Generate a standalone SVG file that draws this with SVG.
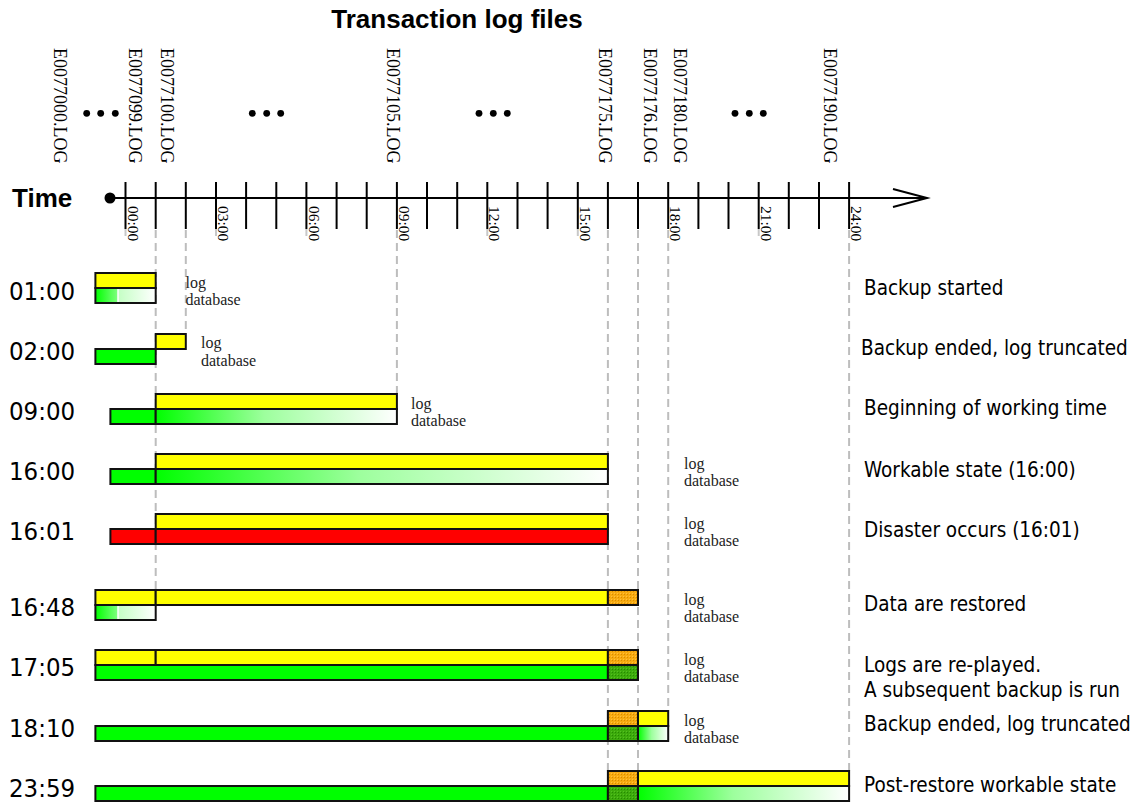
<svg xmlns="http://www.w3.org/2000/svg" width="1139" height="802" viewBox="0 0 1139 802">
  <defs>
    <style>
      .title { font-family: "Liberation Sans", Arial, sans-serif; font-weight: bold; font-size: 26px; fill: #000; }
      .file { font-family: "Liberation Serif", "Times New Roman", serif; font-size: 18px; fill: #000; }
      .hour { font-family: "Liberation Serif", "Times New Roman", serif; font-size: 15.5px; fill: #000; }
      .row { font-family: "DejaVu Sans Condensed", "DejaVu Sans", sans-serif; font-stretch: condensed; font-size: 25.5px; fill: #000; }
      .desc { font-family: "DejaVu Sans Condensed", "DejaVu Sans", sans-serif; font-stretch: condensed; font-size: 20.5px; fill: #000; }
      .tag { font-family: "Liberation Serif", "Times New Roman", serif; font-size: 16px; fill: #222; }
      .bar { stroke: #111; stroke-width: 2; }
      .log { fill: #ffff00; }
      .db { fill: #00ff00; }
      .bad { fill: #ff0000; }
      .fade { fill: url(#fade); }
      .fadeA { fill: url(#fadeA); }
      .fadeB { fill: url(#fadeB); }
      .replay { fill: url(#orangeHatch); }
      .applied { fill: url(#greenHatch); }
      .tick { stroke: #000; stroke-width: 2; }
      .stub { stroke: #c8c8c8; stroke-width: 2; }
      .guide { stroke: #bdbdbd; stroke-width: 2; stroke-dasharray: 8 5; fill: none; }
      .dot { fill: #000; }
    </style>
    <linearGradient id="fade" x1="0" y1="0" x2="1" y2="0">
      <stop offset="0" stop-color="#00ff00"/>
      <stop offset="0.45" stop-color="#9dff9d"/>
      <stop offset="1" stop-color="#ffffff"/>
    </linearGradient>
    <linearGradient id="fadeA" x1="0" y1="0" x2="1" y2="0">
      <stop offset="0" stop-color="#00ff00"/>
      <stop offset="1" stop-color="#80ff80"/>
    </linearGradient>
    <linearGradient id="fadeB" x1="0" y1="0" x2="1" y2="0">
      <stop offset="0" stop-color="#c4ffc4"/>
      <stop offset="1" stop-color="#ffffff"/>
    </linearGradient>
    <pattern id="orangeHatch" width="3" height="3" patternUnits="userSpaceOnUse">
      <rect width="3" height="3" fill="#f7ab10"/>
      <rect width="1" height="1" fill="#d98a00"/>
      <rect x="2" y="2" width="1" height="1" fill="#ffc040"/>
    </pattern>
    <pattern id="greenHatch" width="3" height="3" patternUnits="userSpaceOnUse">
      <rect width="3" height="3" fill="#3cab0c"/>
      <rect width="1" height="1" fill="#268a00"/>
      <rect x="2" y="2" width="1" height="1" fill="#55c020"/>
    </pattern>
  </defs>

  <rect width="1139" height="802" fill="#ffffff"/>

  <!-- heading -->
  <text class="title" x="457" y="28" text-anchor="middle">Transaction log files</text>

  <!-- log file names along the time line -->
  <g id="files">
    <text class="file" transform="translate(54,48) rotate(90)">E0077000.LOG</text>
    <text class="file" transform="translate(129,48) rotate(90)">E0077099.LOG</text>
    <text class="file" transform="translate(160.5,48) rotate(90)">E0077100.LOG</text>
    <text class="file" transform="translate(387,48) rotate(90)">E0077105.LOG</text>
    <text class="file" transform="translate(599,48) rotate(90)">E0077175.LOG</text>
    <text class="file" transform="translate(644,48) rotate(90)">E0077176.LOG</text>
    <text class="file" transform="translate(674,48) rotate(90)">E0077180.LOG</text>
    <text class="file" transform="translate(824,48) rotate(90)">E0077190.LOG</text>
    <circle class="dot" cx="86.7" cy="113.3" r="3.4"/>
    <circle class="dot" cx="100.7" cy="113.3" r="3.4"/>
    <circle class="dot" cx="115.3" cy="113.3" r="3.4"/>
    <circle class="dot" cx="252.3" cy="113.3" r="3.4"/>
    <circle class="dot" cx="266.7" cy="113.3" r="3.4"/>
    <circle class="dot" cx="280.7" cy="113.3" r="3.4"/>
    <circle class="dot" cx="479" cy="113.3" r="3.4"/>
    <circle class="dot" cx="493.3" cy="113.3" r="3.4"/>
    <circle class="dot" cx="507.3" cy="113.3" r="3.4"/>
    <circle class="dot" cx="735" cy="113.3" r="3.4"/>
    <circle class="dot" cx="749.3" cy="113.3" r="3.4"/>
    <circle class="dot" cx="763.3" cy="113.3" r="3.4"/>
  </g>

  <!-- dashed guides from the time line down to the bars -->
  <g id="connectors">
    <line class="guide" x1="155.7" y1="230" x2="155.7" y2="590"/>
    <line class="guide" x1="185.8" y1="230" x2="185.8" y2="334"/>
    <line class="guide" x1="396.9" y1="230" x2="396.9" y2="394"/>
    <line class="guide" x1="607.9" y1="230" x2="607.9" y2="771"/>
    <line class="guide" x1="638" y1="230" x2="638" y2="771"/>
    <line class="guide" x1="668.2" y1="230" x2="668.2" y2="711"/>
    <line class="guide" x1="849.1" y1="230" x2="849.1" y2="771"/>
  </g>

  <!-- time axis -->
  <g id="axis">
    <text class="title" x="12" y="207" font-size="25">Time</text>
    <g class="stub">
      <line x1="125.5" y1="229" x2="125.5" y2="236"/>
      <line x1="216" y1="229" x2="216" y2="236"/>
      <line x1="306.4" y1="229" x2="306.4" y2="236"/>
      <line x1="487.3" y1="229" x2="487.3" y2="236"/>
      <line x1="577.8" y1="229" x2="577.8" y2="236"/>
      <line x1="758.7" y1="229" x2="758.7" y2="236"/>
    </g>
    <line x1="110" y1="198" x2="926" y2="198" stroke="#000" stroke-width="2"/>
    <circle cx="110" cy="198" r="5.5" fill="#000"/>
    <polyline points="893,189 927,198 893,207" fill="none" stroke="#000" stroke-width="2"/>
    <g class="tick">
      <line x1="125.5" y1="182" x2="125.5" y2="229"/>
      <line x1="155.7" y1="182" x2="155.7" y2="229"/>
      <line x1="185.8" y1="182" x2="185.8" y2="229"/>
      <line x1="216" y1="182" x2="216" y2="229"/>
      <line x1="246.1" y1="182" x2="246.1" y2="229"/>
      <line x1="276.3" y1="182" x2="276.3" y2="229"/>
      <line x1="306.4" y1="182" x2="306.4" y2="229"/>
      <line x1="336.6" y1="182" x2="336.6" y2="229"/>
      <line x1="366.7" y1="182" x2="366.7" y2="229"/>
      <line x1="396.9" y1="182" x2="396.9" y2="229"/>
      <line x1="427" y1="182" x2="427" y2="229"/>
      <line x1="457.2" y1="182" x2="457.2" y2="229"/>
      <line x1="487.3" y1="182" x2="487.3" y2="229"/>
      <line x1="517.5" y1="182" x2="517.5" y2="229"/>
      <line x1="547.6" y1="182" x2="547.6" y2="229"/>
      <line x1="577.8" y1="182" x2="577.8" y2="229"/>
      <line x1="607.9" y1="182" x2="607.9" y2="229"/>
      <line x1="638" y1="182" x2="638" y2="229"/>
      <line x1="668.2" y1="182" x2="668.2" y2="229"/>
      <line x1="698.4" y1="182" x2="698.4" y2="229"/>
      <line x1="728.5" y1="182" x2="728.5" y2="229"/>
      <line x1="758.7" y1="182" x2="758.7" y2="229"/>
      <line x1="788.8" y1="182" x2="788.8" y2="229"/>
      <line x1="819" y1="182" x2="819" y2="229"/>
      <line x1="849.1" y1="182" x2="849.1" y2="229"/>
    </g>
    <text class="hour" transform="translate(127.5,206) rotate(90)">00:00</text>
    <text class="hour" transform="translate(218,206) rotate(90)">03:00</text>
    <text class="hour" transform="translate(308.5,206) rotate(90)">06:00</text>
    <text class="hour" transform="translate(399,206) rotate(90)">09:00</text>
    <text class="hour" transform="translate(489.3,206) rotate(90)">12:00</text>
    <text class="hour" transform="translate(579.8,206) rotate(90)">15:00</text>
    <text class="hour" transform="translate(670.2,206) rotate(90)">18:00</text>
    <text class="hour" transform="translate(760.7,206) rotate(90)">21:00</text>
    <text class="hour" transform="translate(851.1,206) rotate(90)">24:00</text>
  </g>

  <!-- 01:00 backup started -->
  <g id="row-0100">
    <text class="row" x="9" y="300">01:00</text>
    <rect class="bar log" x="95.4" y="273" width="60.3" height="15"/>
    <rect class="fadeA" x="95.4" y="288" width="22.6" height="15"/>
    <rect class="fadeB" x="118" y="288" width="37.7" height="15"/>
    <line x1="118" y1="289" x2="118" y2="302" stroke="#fff" stroke-width="1.5"/>
    <rect class="bar" fill="none" x="95.4" y="288" width="60.3" height="15"/>
    <text class="tag" x="185.5" y="288">log</text>
    <text class="tag" x="185.5" y="305">database</text>
    <text class="desc" x="864" y="295">Backup started</text>
  </g>

  <!-- 02:00 backup ended -->
  <g id="row-0200">
    <text class="row" x="9" y="360">02:00</text>
    <rect class="bar log" x="155.7" y="334" width="30.1" height="15"/>
    <rect class="bar db" x="95.4" y="349" width="60.3" height="15"/>
    <text class="tag" x="201" y="348">log</text>
    <text class="tag" x="201" y="366">database</text>
    <text class="desc" x="861" y="355">Backup ended, log truncated</text>
  </g>

  <!-- 09:00 working time begins -->
  <g id="row-0900">
    <text class="row" x="9" y="420">09:00</text>
    <rect class="bar log" x="155.7" y="394" width="241.2" height="15"/>
    <rect class="bar db" x="110.4" y="409" width="45.3" height="15"/>
    <rect class="bar fade" x="155.7" y="409" width="241.2" height="15"/>
    <text class="tag" x="411" y="409">log</text>
    <text class="tag" x="411" y="426">database</text>
    <text class="desc" x="864" y="415">Beginning of working time</text>
  </g>

  <!-- 16:00 workable state -->
  <g id="row-1600">
    <text class="row" x="9" y="480">16:00</text>
    <rect class="bar log" x="155.7" y="454" width="452.2" height="15"/>
    <rect class="bar db" x="110.4" y="469" width="45.3" height="15"/>
    <rect class="bar fade" x="155.7" y="469" width="452.2" height="15"/>
    <text class="tag" x="684" y="469">log</text>
    <text class="tag" x="684" y="486">database</text>
    <text class="desc" x="864" y="477">Workable state (16:00)</text>
  </g>

  <!-- 16:01 disaster -->
  <g id="row-1601">
    <text class="row" x="9" y="540">16:01</text>
    <rect class="bar log" x="155.7" y="514" width="452.2" height="15"/>
    <rect class="bar bad" x="110.4" y="529" width="45.3" height="15"/>
    <rect class="bar bad" x="155.7" y="529" width="452.2" height="15"/>
    <text class="tag" x="684" y="529">log</text>
    <text class="tag" x="684" y="546">database</text>
    <text class="desc" x="864" y="537">Disaster occurs (16:01)</text>
  </g>

  <!-- 16:48 data restored -->
  <g id="row-1648">
    <text class="row" x="9" y="616">16:48</text>
    <rect class="bar log" x="95.4" y="590" width="60.3" height="15"/>
    <rect class="bar log" x="155.7" y="590" width="452.2" height="15"/>
    <rect class="bar replay" x="607.9" y="590" width="30.1" height="15"/>
    <rect class="fadeA" x="95.4" y="605" width="22.6" height="15"/>
    <rect class="fadeB" x="118" y="605" width="37.7" height="15"/>
    <line x1="118" y1="606" x2="118" y2="619" stroke="#fff" stroke-width="1.5"/>
    <rect class="bar" fill="none" x="95.4" y="605" width="60.3" height="15"/>
    <text class="tag" x="684" y="605">log</text>
    <text class="tag" x="684" y="622">database</text>
    <text class="desc" x="864" y="611">Data are restored</text>
  </g>

  <!-- 17:05 logs replayed -->
  <g id="row-1705">
    <text class="row" x="9" y="676">17:05</text>
    <rect class="bar log" x="95.4" y="650" width="60.3" height="15"/>
    <rect class="bar log" x="155.7" y="650" width="452.2" height="15"/>
    <rect class="bar replay" x="607.9" y="650" width="30.1" height="15"/>
    <rect class="bar db" x="95.4" y="665" width="512.5" height="15"/>
    <rect class="bar applied" x="607.9" y="665" width="30.1" height="15"/>
    <text class="tag" x="684" y="665">log</text>
    <text class="tag" x="684" y="682">database</text>
    <text class="desc" x="864" y="672">Logs are re-played.</text>
    <text class="desc" x="864" y="697">A subsequent backup is run</text>
  </g>

  <!-- 18:10 second backup ended -->
  <g id="row-1810">
    <text class="row" x="9" y="737">18:10</text>
    <rect class="bar replay" x="607.9" y="711" width="30.1" height="15"/>
    <rect class="bar log" x="638" y="711" width="30.2" height="15"/>
    <rect class="bar db" x="95.4" y="726" width="512.5" height="15"/>
    <rect class="bar applied" x="607.9" y="726" width="30.1" height="15"/>
    <rect class="bar fade" x="638" y="726" width="30.2" height="15"/>
    <text class="tag" x="684" y="726">log</text>
    <text class="tag" x="684" y="743">database</text>
    <text class="desc" x="864" y="731">Backup ended, log truncated</text>
  </g>

  <!-- 23:59 post-restore workable state -->
  <g id="row-2359">
    <text class="row" x="9" y="797">23:59</text>
    <rect class="bar replay" x="607.9" y="771" width="30.1" height="15"/>
    <rect class="bar log" x="638" y="771" width="211.1" height="15"/>
    <rect class="bar db" x="95.4" y="786" width="512.5" height="15"/>
    <rect class="bar applied" x="607.9" y="786" width="30.1" height="15"/>
    <rect class="bar fade" x="638" y="786" width="211.1" height="15"/>
    <text class="desc" x="864" y="792">Post-restore workable state</text>
  </g>
</svg>
